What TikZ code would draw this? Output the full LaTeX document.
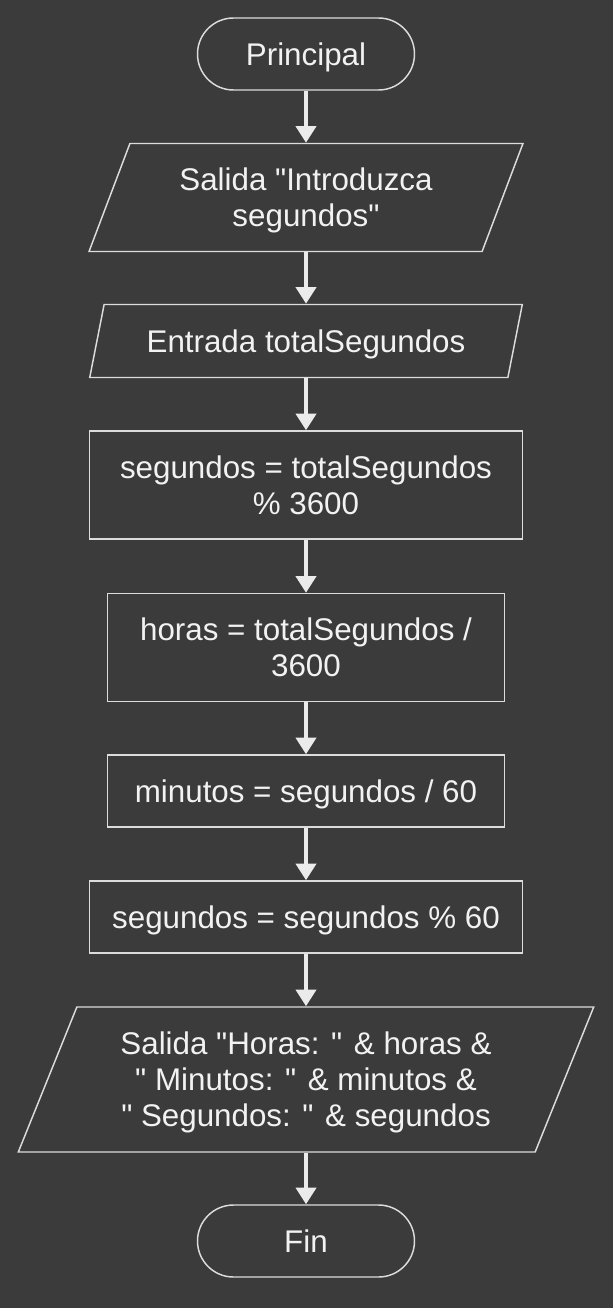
\documentclass[tikz,border=0pt]{standalone}
\usepackage{fontspec}
\setmainfont{Liberation Sans}
\usetikzlibrary{shapes.geometric,arrows.meta}
\definecolor{fondo}{HTML}{3B3B3B}
\definecolor{borde}{HTML}{DCDCDC}
\definecolor{texto}{HTML}{F2F2F2}
\definecolor{flecha}{HTML}{EBEBEB}
\begin{document}
\begin{tikzpicture}[x=0.75pt,y=-0.75pt,
	every node/.style={text=texto,font=\fontsize{23.5}{27}\selectfont,align=center,inner sep=0pt,text depth=0pt},
	terminal/.style={draw=borde,line width=1.1pt,rounded corners=27pt,minimum width=162.75pt,minimum height=54pt},
	proceso/.style={draw=borde,line width=1.1pt},
	datos/.style={draw=borde,line width=1.1pt,trapezium,trapezium stretches=true,trapezium left angle=63.4,trapezium right angle=116.6},
	flujo/.style={-{Triangle[width=15pt,length=12.5pt]},draw=flecha,line width=3pt}]
	% Fondo
	\fill[fondo] (0,0) rectangle (613,1308);
	\useasboundingbox (0,0) rectangle (613,1308);
	% Inicio
	\node[terminal] (inicio) at (306,54) {Principal};
	% Salida del mensaje
	\node[datos,minimum width=325.5pt,minimum height=81pt] (salida1) at (306,197.5) {Salida \textquotedbl Introduzca\\segundos\textquotedbl};
	% Entrada
	\node[datos,minimum width=325.5pt,minimum height=54.75pt] (entrada) at (306,341) {Entrada totalSegundos};
	% Calculos
	\node[proceso,minimum width=324.75pt,minimum height=81pt] (calc1) at (306,485) {segundos = totalSegundos\\\% 3600};
	\node[proceso,minimum width=297.75pt,minimum height=81pt] (calc2) at (306,647.5) {horas = totalSegundos /\\3600};
	\node[proceso,minimum width=297.75pt,minimum height=54pt] (calc3) at (306,791) {minutos = segundos / 60};
	\node[proceso,minimum width=324.75pt,minimum height=54pt] (calc4) at (306,917) {segundos = segundos \% 60};
	% Salida del resultado
	\node[datos,minimum width=432.75pt,minimum height=108.75pt] (salida2) at (306,1079.5) {Salida \textquotedbl Horas: \textquotedbl{} \& horas \&\\\textquotedbl{} Minutos: \textquotedbl{} \& minutos \&\\\textquotedbl{} Segundos: \textquotedbl{} \& segundos};
	% Fin
	\node[terminal] (fin) at (306,1241) {Fin};
	% Flechas
	\draw[flujo] (inicio.south) -- (inicio.south |- salida1.north);
	\draw[flujo] (salida1.south) -- (salida1.south |- entrada.north);
	\draw[flujo] (entrada.south) -- (entrada.south |- calc1.north);
	\draw[flujo] (calc1) -- (calc2);
	\draw[flujo] (calc2) -- (calc3);
	\draw[flujo] (calc3) -- (calc4);
	\draw[flujo] (calc4.south) -- (calc4.south |- salida2.north);
	\draw[flujo] (salida2.south) -- (salida2.south |- fin.north);
\end{tikzpicture}
\end{document}
